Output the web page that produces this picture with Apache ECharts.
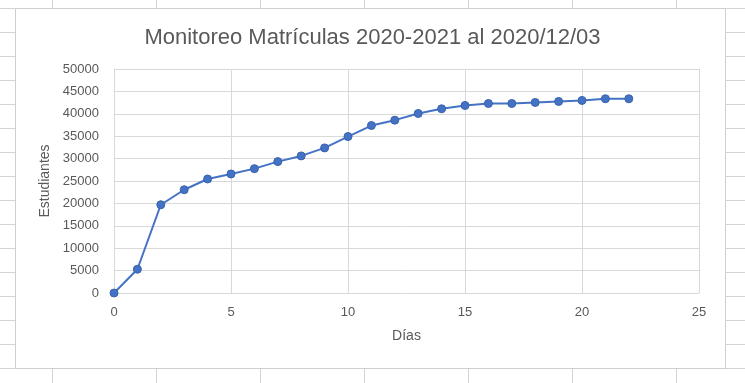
<!DOCTYPE html>
<html><head><meta charset="utf-8">
<script src="https://cdn.jsdelivr.net/npm/echarts@6/dist/echarts.min.js"></script>
<style>html,body{margin:0;padding:0;background:#fff}#c{width:745px;height:383px}</style>
</head><body><div id="c"></div>
<script>
const dias = [0,1,2,3,4,5,6,7,8,9,10,11,12,13,14,15,16,17,18,19,20,21,22];
const estudiantes = [0,5300,19700,23050,25450,26570,27760,29330,30600,32390,34920,37380,38580,40070,41120,41860,42300,42300,42530,42760,42980,43360,43360];
const titleText = 'Monitoreo Matrículas 2020-2021 al 2020/12/03';
const xName = 'Días';
const yName = 'Estudiantes';

const chart = echarts.init(document.getElementById('c'), null, {renderer:'canvas'});
const font = 'Liberation Sans, sans-serif';
// spreadsheet background
const bg = [];
const cols = [52,156,260,364,468,572,676];
const rows = [];
for (let y = 8; y < 383; y += 24) rows.push(y);
cols.forEach(x => bg.push({type:'line', z:-10, shape:{x1:x+0.5,y1:0,x2:x+0.5,y2:383}, style:{stroke:'#d4d4d4',lineWidth:1}}));
rows.forEach(y => bg.push({type:'line', z:-10, shape:{x1:0,y1:y+0.5,x2:745,y2:y+0.5}, style:{stroke:'#d4d4d4',lineWidth:1}}));
bg.push({type:'rect', z:-5, shape:{x:15.5,y:8.5,width:710,height:360}, style:{fill:'#ffffff',stroke:'#cfcfcf',lineWidth:1}});

chart.setOption({
  animation:false,
  graphic: bg,
  title:{text:titleText, left:'center', top:22, textStyle:{fontFamily:font, fontSize:22, fontWeight:'normal', color:'#595959'}},
  grid:{left:114, right:46, top:69, bottom:90},
  xAxis:{type:'value', min:0, max:25, interval:5, name:xName, nameLocation:'middle', nameGap:36,
    nameTextStyle:{fontFamily:font, fontSize:14, color:'#595959'},
    axisLine:{show:true, lineStyle:{color:'#d9d9d9'}}, axisTick:{show:false},
    axisLabel:{fontFamily:font, fontSize:13, color:'#595959', margin:13},
    splitLine:{show:true, lineStyle:{color:'#d9d9d9'}}},
  yAxis:{type:'value', min:0, max:50000, interval:5000, name:yName, nameLocation:'middle', nameGap:54,
    nameTextStyle:{fontFamily:font, fontSize:14, color:'#595959'},
    axisLine:{show:true, lineStyle:{color:'#d9d9d9'}}, axisTick:{show:false},
    axisLabel:{fontFamily:font, fontSize:13, color:'#595959', margin:15, formatter: v => String(v)},
    splitLine:{show:true, lineStyle:{color:'#d9d9d9'}}},
  series:[{type:'line', data:dias.map((d,i)=>[d, estudiantes[i]]), symbol:'circle', symbolSize:8,
    lineStyle:{color:'#4472C4', width:2}, itemStyle:{color:'#4472C4', borderColor:'#3a63ad', borderWidth:1}}]
});
</script></body></html>
